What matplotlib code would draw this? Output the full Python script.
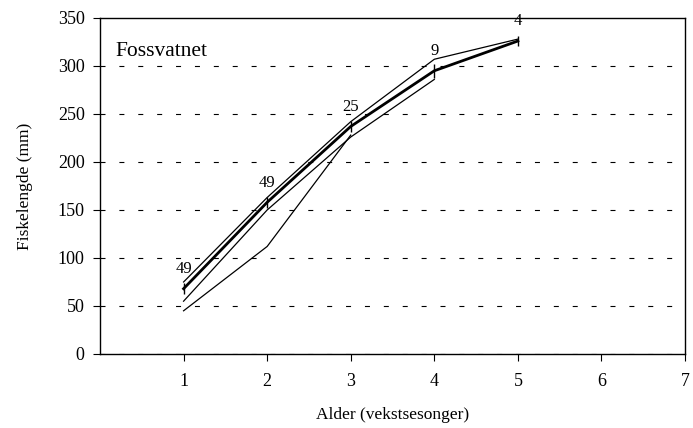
import matplotlib.pyplot as plt

plt.rcParams["font.family"] = ["Liberation Serif", "DejaVu Serif"]

# mean length at age with standard error and sample size
alder = [1, 2, 3, 4, 5]
snitt = [68, 158, 237, 295, 326]
feil = [6, 6, 6, 7, 5]
antall = [49, 49, 25, 9, 4]

# back-calculated growth for single groups
alder_a = [1, 2, 3, 4, 5]
lengde_a = [75, 163, 242, 307, 328]
alder_b = [1, 2, 3, 4]
lengde_b = [55, 150, 226, 286]
alder_c = [1, 2, 3]
lengde_c = [45, 112, 228]

fig = plt.figure(figsize=(6.93, 4.28), dpi=100)
ax = fig.add_axes([0.1443, 0.1729, 0.8442, 0.7851])

for y in range(0, 301, 50):
    ax.axhline(y, color="black", lw=0.8, ls=(0, (4.5, 12.5)), zorder=1)

ax.plot(alder_a, lengde_a, color="black", lw=0.9, zorder=2)
ax.plot(alder_b, lengde_b, color="black", lw=0.9, zorder=2)
ax.plot(alder_c, lengde_c, color="black", lw=0.9, zorder=2)

ax.errorbar(alder, snitt, yerr=feil, color="black", lw=2.0,
            elinewidth=1.0, capsize=0, zorder=3)

for x, y, n in zip(alder, snitt, antall):
    ax.text(x, y + 12, str(n), ha="center", va="bottom", fontsize=12)

ax.text(0.026, 0.9, "Fossvatnet", transform=ax.transAxes, fontsize=15.5,
        ha="left", va="center")

ax.set_xlim(0, 7)
ax.set_ylim(0, 350)
ax.set_xticks(range(1, 8))
ax.set_yticks(range(0, 351, 50))
ax.tick_params(axis="x", direction="out", length=5, labelsize=13, pad=9)
ax.tick_params(axis="y", direction="out", length=5, labelsize=13, pad=6)
for s in ax.spines.values():
    s.set_linewidth(1.0)

ax.set_xlabel("Alder (vekstsesonger)", fontsize=12.5, labelpad=12)
ax.set_ylabel("Fiskelengde (mm)", fontsize=12.5, labelpad=18)

fig.savefig("out.png", dpi=100)
